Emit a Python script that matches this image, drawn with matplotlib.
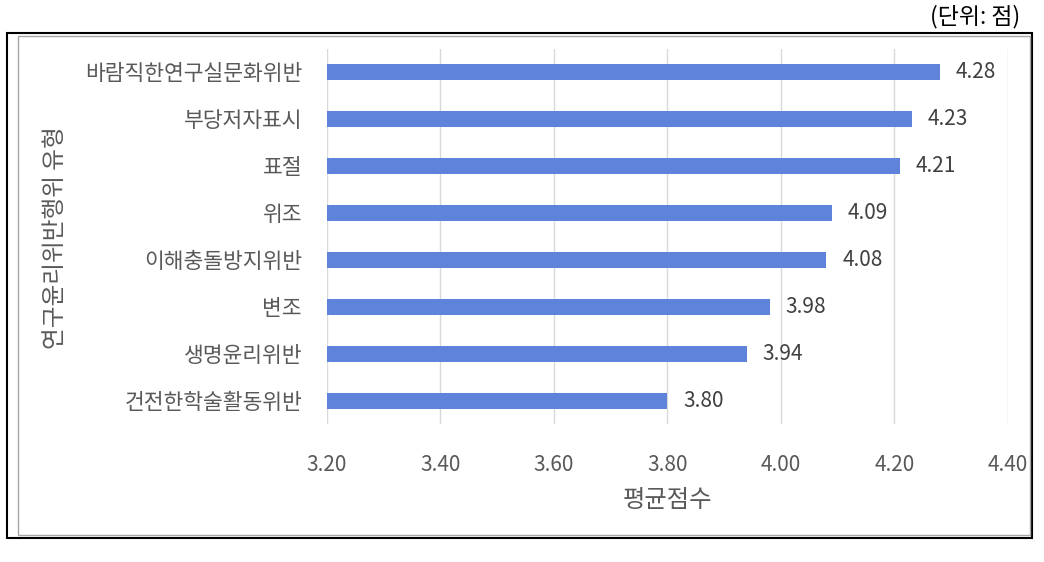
import matplotlib
matplotlib.use("Agg")
import matplotlib.pyplot as plt
from matplotlib.patches import Rectangle

plt.rcParams['font.family'] = ['Noto Sans CJK KR', 'DejaVu Sans']

# 연구윤리 위반행위 유형별 평균점수
categories = ['바람직한연구실문화위반', '부당저자표시', '표절', '위조',
              '이해충돌방지위반', '변조', '생명윤리위반', '건전한학술활동위반']
scores = [4.28, 4.23, 4.21, 4.09, 4.08, 3.98, 3.94, 3.80]
x_ticks = [3.20, 3.40, 3.60, 3.80, 4.00, 4.20, 4.40]

text_color = '#595959'
bar_color = '#5F83DA'

fig = plt.figure(figsize=(10.44, 5.62), dpi=100)
ax = fig.add_axes([0.3132, 0.2447, 0.6523, 0.669])

ypos = list(range(len(categories)))[::-1]
ax.barh(ypos, [s - x_ticks[0] for s in scores], left=x_ticks[0],
        height=0.34, color=bar_color, zorder=3)

for y, s in zip(ypos, scores):
    ax.text(s + 0.028, y, f'{s:.2f}', va='center', ha='left',
            fontsize=15, color='#404040')

ax.set_xlim(x_ticks[0], x_ticks[-1])
ax.set_ylim(-0.5, len(categories) - 0.5)
ax.set_xticks(x_ticks)
ax.set_xticklabels([f'{t:.2f}' for t in x_ticks], fontsize=15, color=text_color)
ax.set_yticks(ypos)
ax.set_yticklabels(categories, fontsize=15.5, color=text_color)
ax.tick_params(axis='both', length=0)
ax.tick_params(axis='x', pad=21)
ax.tick_params(axis='y', pad=18)
ax.grid(axis='x', color='#D9D9D9', linewidth=1, zorder=0)
for sp in ax.spines.values():
    sp.set_visible(False)

ax.set_xlabel('평균점수', fontsize=17.5, color=text_color, labelpad=8)
fig.text(0.053, 1 - 238 / 562, '연구윤리위반행위 유형', rotation=90, ha='center',
         va='center', fontsize=17, color=text_color)

# 차트 테두리
fig.add_artist(Rectangle((7 / 1044, 1 - 538 / 562), 1025 / 1044, 505 / 562,
                         transform=fig.transFigure, fill=False,
                         edgecolor='black', linewidth=1.5))
fig.add_artist(Rectangle((18 / 1044, 1 - 535 / 562), 1012 / 1044, 499 / 562,
                         transform=fig.transFigure, fill=False,
                         edgecolor='#A6A6A6', linewidth=1))

fig.text(1020 / 1044, 1 - 17 / 562, '(단위: 점)', ha='right', va='center',
         fontsize=16.5, color='black')

fig.savefig('out.png', dpi=100)
